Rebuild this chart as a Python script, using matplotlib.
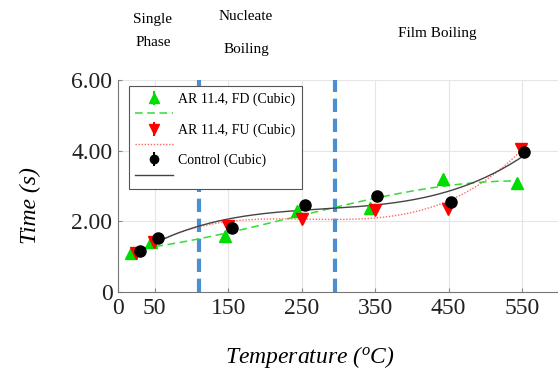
import numpy as np
import matplotlib.pyplot as plt

plt.rcParams['font.family'] = ['Liberation Serif', 'DejaVu Serif']
plt.rcParams['mathtext.fontset'] = 'custom'
plt.rcParams['mathtext.rm'] = 'Liberation Serif'
plt.rcParams['mathtext.it'] = 'Liberation Serif:italic'

# data
fd_x = [18, 45, 145, 244, 343, 443, 543]
fd_y = [1.09, 1.42, 1.58, 2.29, 2.37, 3.19, 3.09]
fu_x = [24, 49, 150, 250, 350, 449, 548]
fu_y = [1.09, 1.42, 1.87, 2.08, 2.32, 2.34, 4.06]
ctrl_x = [30, 55, 155, 254, 353, 453, 553]
ctrl_y = [1.17, 1.52, 1.82, 2.46, 2.72, 2.55, 3.97]
regime_edges = [110, 295]
xticks = [0, 50, 150, 250, 350, 450, 550]
yticks = [0, 2, 4, 6]
ytick_labels = ['0', '2.00', '4.00', '6.00']

fig = plt.figure(figsize=(5.58, 3.75), dpi=100)
ax = fig.add_axes([0.2115, 0.2213, 0.79, 0.5654])

for xv in [50, 150, 250, 350, 450, 550]:
    ax.axvline(xv, color='#e6e6e6', lw=0.8, zorder=0)
for yv in [2, 4, 6]:
    ax.axhline(yv, color='#e6e6e6', lw=0.8, zorder=0)

for xv in regime_edges:
    ax.axvline(xv, color='#4a90d0', lw=3, ls=(0, (3.2, 1.6)), zorder=1)


def cubic(xs, ys):
    c = np.polyfit(xs, ys, 3)
    xx = np.linspace(min(xs), max(xs), 200)
    return xx, np.polyval(c, xx)


gx, gy = cubic(fd_x, fd_y)
rx, ry = cubic(fu_x, fu_y)
kx, ky = cubic(ctrl_x, ctrl_y)
l_fd, = ax.plot(gx, gy, color='#33dd33', ls=(0, (5, 3)), lw=1.1, zorder=2)
l_fu, = ax.plot(rx, ry, color='#ff6666', ls=(0, (1, 1.2)), lw=1.0, zorder=2)
l_ct, = ax.plot(kx, ky, color='#444444', ls='-', lw=1.0, zorder=2)

ax.plot(fd_x, fd_y, ls='none', marker='^', ms=8.5, color='#00dd00', zorder=3)
ax.plot(fu_x, fu_y, ls='none', marker='v', ms=8.5, color='#ff0000', zorder=3)
ax.plot(ctrl_x, ctrl_y, ls='none', marker='o', ms=8, color='black', zorder=4)

# legend handles with error-bar caps, like the original
e_fd = ax.errorbar([], [], yerr=[], fmt='^', ms=7, color='#00dd00', capsize=3)
e_fu = ax.errorbar([], [], yerr=[], fmt='v', ms=7, color='#ff0000', capsize=3)
e_ct = ax.errorbar([], [], yerr=[], fmt='o', ms=6, color='black', capsize=3)

leg = ax.legend([e_fd, l_fd, e_fu, l_fu, e_ct, l_ct],
                ['AR 11.4, FD (Cubic)', '', 'AR 11.4, FU (Cubic)', '', 'Control (Cubic)', ''],
                loc='upper left', bbox_to_anchor=(0.025, 0.97), fontsize=10,
                handlelength=2.7, handletextpad=0.4, labelspacing=0.15,
                fancybox=False, edgecolor='#555555', framealpha=1,
                borderpad=0.45, borderaxespad=0)
leg.get_frame().set_linewidth(0.8)

ax.set_xlim(0, 600)
ax.set_ylim(0, 6)
ax.set_xticks(xticks)
ax.set_yticks(yticks)
ax.set_yticklabels(ytick_labels)
ax.tick_params(direction='in', length=3, width=0.8, color='#888888',
               labelsize=17, labelcolor='#222222', pad=4)
for s in ['top', 'right']:
    ax.spines[s].set_visible(False)
for s in ['left', 'bottom']:
    ax.spines[s].set_color('#777777')
    ax.spines[s].set_linewidth(0.8)

ax.set_xlabel(r'Temperature ($^{o}$C)', fontsize=17, style='italic')
ax.xaxis.set_label_coords(0.435, -0.245)
ax.set_ylabel('Time (s)', fontsize=17, style='italic')
ax.yaxis.set_label_coords(-0.175, 0.41)

fig.text(153 / 558, 1 - 20 / 375, 'Single', ha='center', va='center', fontsize=11)
fig.text(153 / 558, 1 - 43 / 375, 'Phase', ha='center', va='center', fontsize=11)
fig.text(246 / 558, 1 - 16 / 375, 'Nucleate', ha='center', va='center', fontsize=11)
fig.text(246 / 558, 1 - 49 / 375, 'Boiling', ha='center', va='center', fontsize=11)
fig.text(437 / 558, 1 - 33 / 375, 'Film Boiling', ha='center', va='center', fontsize=11)

fig.savefig('out.png', dpi=100)
